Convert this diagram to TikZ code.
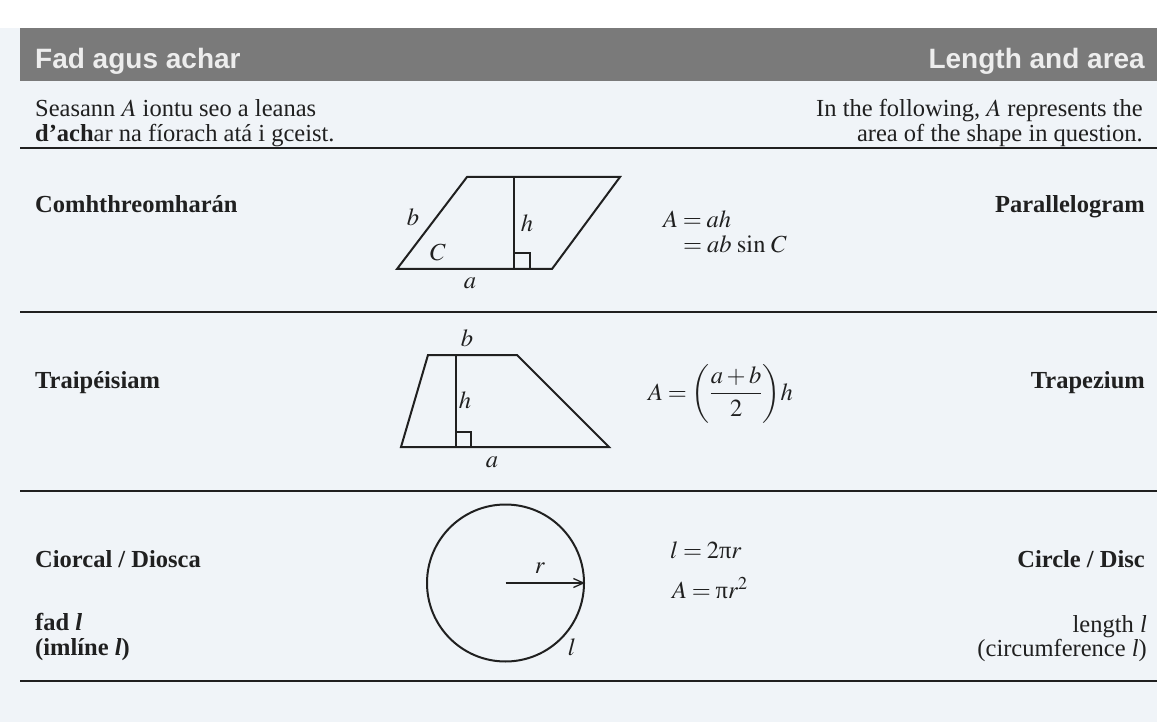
\documentclass[tikz,border=0pt]{standalone}
\usepackage{mathptmx}
\usepackage{amsmath}
\usepackage{fontspec}
\setmainfont{Liberation Serif}
\newfontfamily\headfont{Liberation Sans}
\usetikzlibrary{arrows.meta,calc}
\definecolor{paper}{RGB}{240,244,248}
\definecolor{band}{RGB}{122,122,122}
\definecolor{ink}{RGB}{32,32,32}
\thickmuskip=3.5mu plus 2mu
\newcommand{\uppi}{\text{π}}
\tikzset{
  txt/.style={inner sep=0pt,text=ink,font=\fontsize{24.5}{25}\selectfont},
  ttl/.style={inner sep=0pt,text=ink,font=\fontsize{24.5}{25}\selectfont\bfseries},
  hd/.style={inner sep=0pt,text=white!93!black,font=\headfont\bfseries\fontsize{28}{30}\selectfont},
  fig/.style={draw=ink,line width=2pt},
  hgt/.style={draw=ink,line width=1.3pt},
  rule/.style={draw=ink,line width=1.6pt}
}
\begin{document}
\begin{tikzpicture}[x=1pt,y=-1pt]
\useasboundingbox (0,0) rectangle (1157,722);
\fill[white] (0,0) rectangle (1157,722); \fill[paper] (0,28) rectangle (1157,722);
\fill[band] (20,28) rectangle (1157,81);
\node[hd,anchor=base west] (hdl) at (35,69) {Fad agus achar};
\node[hd,anchor=base east] (hdr) at (1145,69) {Length and area};
\node[txt,anchor=base west] (inla) at (35,117) {Seasann $A$ iontu seo a leanas};
\node[txt,anchor=base west] (inlb) at (35,142) {\textbf{d’ach}ar na fíorach atá i gceist.};
\node[txt,anchor=base east] (inra) at (1143,117) {In the following, $A$ represents the};
\node[txt,anchor=base east] (inrb) at (1143,142) {area of the shape in question.};
\foreach \y in {148,312,491,681} \draw[rule] (20,\y) -- (1157,\y);
% comhthreomharan
\node[ttl,anchor=base west] (nmpl) at (35,213) {Comhthreomharán};
\node[ttl,anchor=base east] (nmpr) at (1145,213) {Parallelogram};
\coordinate (pa) at (397,269); \coordinate (pb) at (552,269); \coordinate (pc) at (620,177); \coordinate (pd) at (467,177);
\draw[fig] (pa) -- (pb) -- (pc) -- (pd) -- cycle;
\coordinate (ph) at (514,177); \coordinate (pf) at (514,269);
\draw[hgt] (ph) -- (pf); \draw[hgt] ($(pf)+(0,-16)$) -| ($(pf)+(16,0)$);
\node[txt] (lpb) at (413,217) {$b$}; \node[txt] (lph) at (527,223) {$h$};
\node[txt] (lpc) at (438,252) {$C$}; \node[txt] (lpa) at (470,283) {$a$};
\node[txt,anchor=base west] (fpa) at (663,228) {$A=ah$};
\node[txt,anchor=base west] (fpb) at (683,253) {$=ab\,\sin\,C$};
% traipeisiam
\node[ttl,anchor=base west] (nmtl) at (35,388) {Traipéisiam};
\node[ttl,anchor=base east] (nmtr) at (1145,388) {Trapezium};
\coordinate (ta) at (401,447); \coordinate (tb) at (609,447); \coordinate (tc) at (517,355); \coordinate (td) at (428,355);
\draw[fig] (ta) -- (tb) -- (tc) -- (td) -- cycle;
\coordinate (th) at (456,355); \coordinate (tf) at (456,447);
\draw[hgt] (th) -- (tf); \draw[hgt] ($(tf)+(0,-15)$) -| ($(tf)+(15,0)$);
\node[txt] (ltb) at (467,338) {$b$}; \node[txt] (lth) at (465,400) {$h$}; \node[txt] (lta) at (492,462) {$a$};
\node[txt,anchor=base west] (fta) at (648,400) {$A=\left(\dfrac{a+b}{2}\right)\!h$};
% ciorcal
\node[ttl,anchor=base west] (nmcl) at (35,567) {Ciorcal / Diosca};
\node[ttl,anchor=base east] (nmcr) at (1145,567) {Circle / Disc};
\node[ttl,anchor=base west] (fdl) at (35,630) {fad \textit{l}};
\node[ttl,anchor=base west] (iml) at (35,655) {(imlíne \textit{l})};
\node[txt,anchor=base east] (lnr) at (1147,632) {length \textit{l}};
\node[txt,anchor=base east] (cfr) at (1147,656) {(circumference \textit{l})};
\node[circle,draw=ink,line width=2pt,minimum size=157pt,inner sep=0pt] (disc) at (505.5,583) {};
\draw[hgt,-{Straight Barb[length=10pt,width=9pt]}] (disc.center) -- (disc.east);
\node[txt] (lcr) at (540,568) {$r$}; \node[txt] (lcl) at (572,647) {$l$};
\node[txt,anchor=base west] (fca) at (670,558) {$l=2\uppi r$};
\node[txt,anchor=base west] (fcb) at (672,598) {$A=\uppi r^2$};
\end{tikzpicture}
\end{document}
